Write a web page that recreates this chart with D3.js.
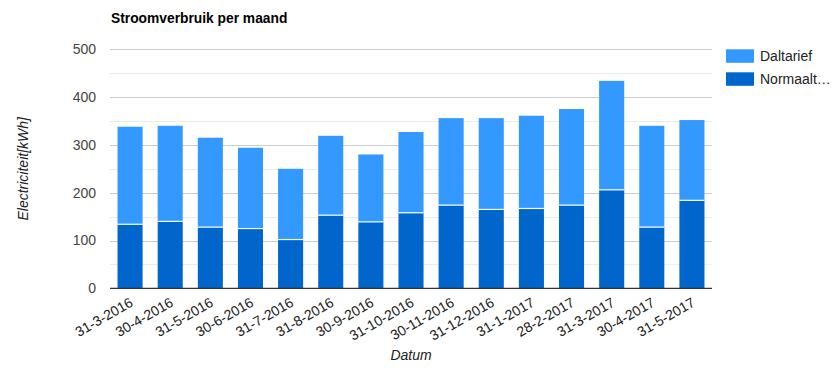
<!DOCTYPE html>
<html><head><meta charset="utf-8">
<script src="https://cdn.jsdelivr.net/npm/d3@7"></script>
<style>body{margin:0;background:#fff}svg{display:block;font-family:Arial,"Liberation Sans",sans-serif}</style>
</head><body><svg id="c" width="837" height="380"></svg>
<script>
const categories = ["31-3-2016","30-4-2016","31-5-2016","30-6-2016","31-7-2016","31-8-2016","30-9-2016","31-10-2016","30-11-2016","31-12-2016","31-1-2017","28-2-2017","31-3-2017","30-4-2017","31-5-2017"];
const normaal = [134,140,128,125,102,153,139,158,174,165,167,174,206,128,184];
const daltarief = [204,200,187,169,148,166,141,169,182,191,194,201,228,212,168];
const yTicks = [0,100,200,300,400,500];
const seriesNames = ["Daltarief","Normaalt…"];
const colors = {dal:"#3399ff", norm:"#0066cc"};

const svg = d3.select("#c");
const L=110, R=712, T=49.3, B=288.3;
const x = d3.scaleBand().domain(categories).range([L,R]).paddingInner(0.375).paddingOuter(0.1875);
const y = d3.scaleLinear().domain([0,500]).range([B,T]);

// minor gridlines
const minor = d3.range(50,500,100);
svg.append("g").selectAll("line").data(minor).join("line")
  .attr("x1",L).attr("x2",R).attr("y1",d=>Math.round(y(d))+0.5).attr("y2",d=>Math.round(y(d))+0.5)
  .attr("stroke","#ebebeb").attr("stroke-width",1);
svg.append("g").selectAll("line").data(yTicks.filter(d=>d>0)).join("line")
  .attr("x1",L).attr("x2",R).attr("y1",d=>Math.round(y(d))+0.5).attr("y2",d=>Math.round(y(d))+0.5)
  .attr("stroke","#cccccc").attr("stroke-width",1);

// bars
const g = svg.append("g");
categories.forEach((c,i)=>{
  const n=normaal[i], d=daltarief[i];
  g.append("rect").attr("x",x(c)).attr("width",x.bandwidth())
    .attr("y",y(n+d)).attr("height",y(n)-y(n+d)).attr("fill",colors.dal);
  g.append("rect").attr("x",x(c)).attr("width",x.bandwidth())
    .attr("y",y(n)).attr("height",y(0)-y(n)).attr("fill",colors.norm);
  g.append("line").attr("x1",x(c)).attr("x2",x(c)+x.bandwidth())
    .attr("y1",y(n)).attr("y2",y(n)).attr("stroke","#fff").attr("stroke-width",1.2);
});

// baseline
svg.append("line").attr("x1",L).attr("x2",R).attr("y1",B).attr("y2",B).attr("stroke","#333").attr("stroke-width",1.3);

// y labels
const ya = d3.axisLeft(y).tickValues(yTicks).tickSize(0).tickPadding(14);
const yg = svg.append("g").attr("transform",`translate(${L},0)`).call(ya);
yg.select(".domain").remove();
yg.selectAll("text").attr("font-size",14).attr("fill","#444").attr("font-family","Arial,'Liberation Sans',sans-serif");

// x labels
const xa = d3.axisBottom(x).tickSize(0).tickPadding(0);
const xg = svg.append("g").attr("transform",`translate(0,${B})`).call(xa);
xg.select(".domain").remove();
xg.selectAll("text").attr("font-size",14).attr("fill","#222").attr("font-family","Arial,'Liberation Sans',sans-serif")
  .attr("text-anchor","end").attr("dy",null).attr("y",0)
  .attr("transform","translate(4,17) rotate(-30)");

// title
svg.append("text").attr("x",111).attr("y",23).attr("font-size",13.8).attr("font-weight","bold").attr("fill","#000").text("Stroomverbruik per maand");

// axis titles
svg.append("text").attr("transform",`translate(28,${(T+B)/2}) rotate(-90)`).attr("text-anchor","middle")
  .attr("font-size",14).attr("font-style","italic").attr("fill","#222").text("Electriciteit[kWh]");
svg.append("text").attr("x",(L+R)/2).attr("y",360).attr("text-anchor","middle")
  .attr("font-size",14).attr("font-style","italic").attr("fill","#222").text("Datum");

// legend
const lg = svg.append("g");
[[seriesNames[0],colors.dal],[seriesNames[1],colors.norm]].forEach((s,i)=>{
  lg.append("rect").attr("x",726).attr("y",49.3+i*23).attr("width",28).attr("height",13.5).attr("fill",s[1]);
  lg.append("text").attr("x",760).attr("y",61+i*23).attr("font-size",14).attr("fill","#222").text(s[0]);
});
</script></body></html>
